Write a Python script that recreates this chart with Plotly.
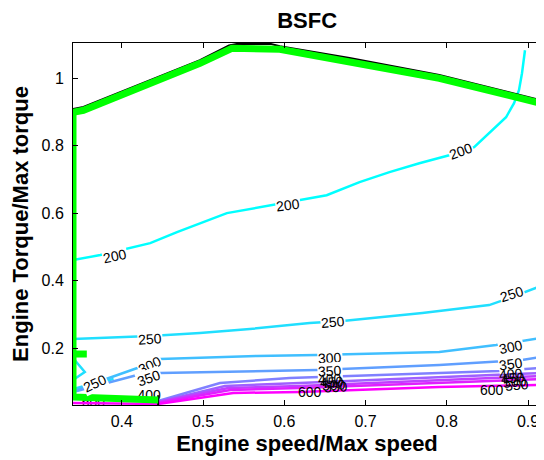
import plotly.graph_objects as go

# ---------------- data ----------------
levels = [200, 250, 300, 350, 400, 450, 500, 550, 600]

# contour lines, one list of (speed, torque) pieces per level; None separates pieces
c200_x = [0.34, 0.3736, 0.435, 0.468, 0.5294, 0.5859, 0.6522, 0.6927, 0.7295, 0.7663, 0.803, 0.8337, 0.8522, 0.873, 0.8828, 0.8889, 0.8926, 0.8963]
c200_y = [0.461, 0.4756, 0.511, 0.5437, 0.600, 0.6237, 0.6533, 0.6919, 0.7215, 0.7481, 0.7719, 0.7956, 0.837, 0.8844, 0.926, 0.9644, 1.0148, 1.083]

c250_x = [0.34, 0.435, 0.4963, 0.5577, 0.6313, 0.6718, 0.77, 0.8153, 0.8522, 0.8767, 0.916, None,
          0.34, 0.3545, 0.34, None,
          0.34, 0.3675, 0.39]
c250_y = [0.2267, 0.2356, 0.2444, 0.2563, 0.2741, 0.28, 0.3037, 0.3156, 0.3274, 0.3481, 0.3837, None,
          0.1704, 0.1289, 0.1052, None,
          0.0785, 0.0963, 0.108]

c300_x = [0.34, 0.3528, 0.4227, None, 0.4472, 0.5663, 0.6399, 0.7908, 0.8607, 0.8926, 0.916]
c300_y = [0.0726, 0.0844, 0.1437, None, 0.1674, 0.1763, 0.1793, 0.1881, 0.2089, 0.2207, 0.2296]

c350_x = [0.34, 0.419, None, 0.4472, 0.5663, 0.6399, 0.7908, 0.8607, 0.8926, 0.916]
c350_y = [0.0696, 0.12, None, 0.1259, 0.1319, 0.1348, 0.1496, 0.1585, 0.1644, 0.1733]

c400_x = [0.4448, 0.5209, 0.6067, 0.7908, 0.8644, 0.916]
c400_y = [0.043, 0.0963, 0.1111, 0.1259, 0.1319, 0.1407]

c450_x = [0.4448, 0.527, 0.619, 0.7908, 0.916]
c450_y = [0.040, 0.0874, 0.0963, 0.1141, 0.1259]

c500_x = [0.4448, 0.531, 0.619, 0.7908, 0.916]
c500_y = [0.040, 0.0815, 0.0874, 0.1052, 0.117]

c550_x = [0.4448, 0.5335, 0.619, 0.7908, 0.916]
c550_y = [0.037, 0.0756, 0.0815, 0.0963, 0.1081]

c600_x = [0.34, 0.4448, 0.5372, 0.619, 0.7908, 0.916]
c600_y = [0.037, 0.034, 0.0667, 0.0696, 0.0844, 0.0904]

contour_x = [c200_x, c250_x, c300_x, c350_x, c400_x, c450_x, c500_x, c550_x, c600_x]
contour_y = [c200_y, c250_y, c300_y, c350_y, c400_y, c450_y, c500_y, c550_y, c600_y]

# max-torque curve (thick green) and its black outline
wot_x = [0.4448, 0.34, 0.34, 0.3528, 0.4963, 0.5356, 0.5945, 0.6804, 0.7908, 0.916, None, 0.34, 0.357]
wot_y = [0.0459, 0.0548, 0.899, 0.905, 1.0444, 1.0889, 1.0859, 1.0504, 1.0, 0.9259, None, 0.1822, 0.1822]

blk_x = [0.34, 0.3528, 0.4963, 0.532, 0.5422, 0.5831, 0.5945, 0.6804, 0.7908, 0.916, None, 0.4448, 0.4448]
blk_y = [0.909, 0.915, 1.054, 1.097, 1.102, 1.102, 1.095, 1.06, 1.01, 0.935, None, 0.06, 0.031]

# contour labels: speed, torque, text, angle, white backing
lab_x = [0.392, 0.6043, 0.8178, 0.435, 0.6595, 0.8804, 0.3675, 0.435, 0.656, 0.879,
         0.4337, 0.656, 0.879, 0.656, 0.879, 0.6583, 0.8816, 0.6607, 0.884, 0.6632, 0.8865, 0.6313, 0.8558]
lab_y = [0.4726, 0.6237, 0.7837, 0.228, 0.277, 0.36, 0.0963, 0.1496, 0.1704, 0.203,
         0.1111, 0.1319, 0.1526, 0.1081, 0.123, 0.0993, 0.1111, 0.0904, 0.0993, 0.0844, 0.0904, 0.0696, 0.0756]
lab_t = ["200", "200", "200", "250", "250", "250", "250", "300", "300", "300",
         "350", "350", "350", "400", "400", "450", "450", "500", "500", "550", "550", "600", "600"]
lab_a = [-12, -7, -20, -4, -5, -18, -25, -25, -3, -12,
         -20, -3, -8, -3, -5, -3, -5, -3, -5, -3, -5, 0, 0]
lab_bg = [1, 1, 1, 1, 1, 1, 1, 1, 1, 1,
          1, 1, 1, 0, 0, 0, 0, 0, 0, 0, 0, 0, 0]

# labels hidden partly under the green curve (drawn as text traces)
low_x = [0.4337, 0.3651]
low_y = [0.0548, 0.034]
low_t = ["400", "600"]

x_ticks = [0.4, 0.5, 0.6, 0.7, 0.8, 0.9]
y_ticks = [0.2, 0.4, 0.6, 0.8, 1.0]
y_tick_text = ["0.2", "0.4", "0.6", "0.8", "1"]

# ---------------- figure ----------------
FONT = "Arial, Liberation Sans"

def cool(i, n):
    t = i / (n - 1)
    return "rgb(%d,%d,255)" % (round(255 * t), round(255 * (1 - t)))

fig = go.Figure()

fig.add_trace(go.Scatter(x=low_x, y=low_y, text=low_t, mode="text",
                         textfont=dict(family=FONT, size=14, color="black"),
                         cliponaxis=True, showlegend=False, hoverinfo="skip"))

for i, lv in enumerate(levels):
    fig.add_trace(go.Scatter(x=contour_x[i], y=contour_y[i], mode="lines",
                             line=dict(color=cool(i, len(levels)), width=2.5),
                             name=str(lv), showlegend=False, connectgaps=False))

fig.add_trace(go.Scatter(x=blk_x, y=blk_y, mode="lines", line=dict(color="black", width=2),
                         showlegend=False, connectgaps=False))
fig.add_trace(go.Scatter(x=wot_x, y=wot_y, mode="lines", line=dict(color="rgb(0,255,0)", width=7),
                         showlegend=False, connectgaps=False))

for x, y, t, a, bg in zip(lab_x, lab_y, lab_t, lab_a, lab_bg):
    fig.add_annotation(x=x, y=y, xref="x", yref="y", text=t, showarrow=False, textangle=a,
                       font=dict(family=FONT, size=14, color="black"),
                       bgcolor="white" if bg else "rgba(255,255,255,0)", borderpad=0)

axis_common = dict(showline=True, linecolor="black", linewidth=1, mirror="ticks", ticks="inside",
                   ticklen=5, tickcolor="black", showgrid=False, zeroline=False, automargin=False,
                   tickfont=dict(family=FONT, size=16, color="black"))

fig.update_xaxes(range=[0.34, 0.916], tickvals=x_ticks, ticktext=[str(v) for v in x_ticks],
                 ticklabelstandoff=2,
                 title=dict(text="<b>Engine speed/Max speed</b>", standoff=6,
                            font=dict(family=FONT, size=22, color="black")),
                 **axis_common)
fig.update_yaxes(range=[0.031, 1.1046], tickvals=y_ticks, ticktext=y_tick_text,
                 ticklabelstandoff=5,
                 title=dict(text="<b>Engine Torque/Max torque</b>", standoff=8,
                            font=dict(family=FONT, size=22, color="black")),
                 **axis_common)

# the page adds an 8 px body margin, so the figure is 8 px smaller and its margins shifted
fig.update_layout(
    template="none",
    width=536, height=452,
    margin=dict(l=65, r=3, t=35, b=55),
    paper_bgcolor="white", plot_bgcolor="white",
    title=dict(text="<b>BSFC</b>", x=0.558, xanchor="center", y=0.972, yanchor="middle",
               pad=dict(t=0, b=0), font=dict(family=FONT, size=22, color="black")),
)

fig.write_html("out.html")
